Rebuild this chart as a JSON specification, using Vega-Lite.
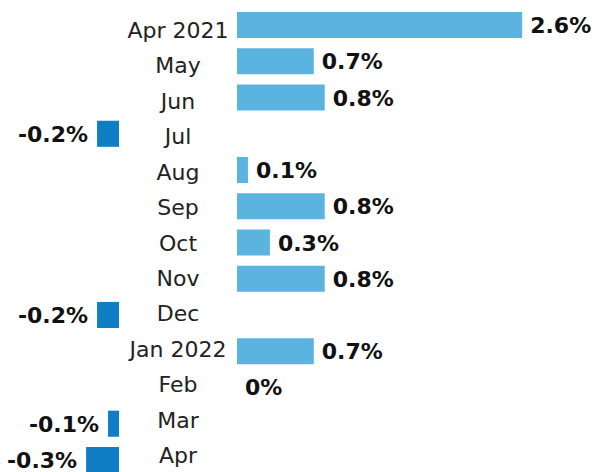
{
  "$schema": "https://vega.github.io/schema/vega-lite/v6.json",
  "padding": {"top": 12, "left": 0, "right": 0, "bottom": 0},
  "background": "white",
  "spacing": 0,
  "bounds": "flush",
  "config": {"view": {"stroke": null}, "concat": {"spacing": 0}},
  "data": {
    "values": [
      {"month": "Apr 2021", "v": 2.6, "label": "2.6%"},
      {"month": "May", "v": 0.7, "label": "0.7%"},
      {"month": "Jun", "v": 0.8, "label": "0.8%"},
      {"month": "Jul", "v": -0.2, "label": "-0.2%"},
      {"month": "Aug", "v": 0.1, "label": "0.1%"},
      {"month": "Sep", "v": 0.8, "label": "0.8%"},
      {"month": "Oct", "v": 0.3, "label": "0.3%"},
      {"month": "Nov", "v": 0.8, "label": "0.8%"},
      {"month": "Dec", "v": -0.2, "label": "-0.2%"},
      {"month": "Jan 2022", "v": 0.7, "label": "0.7%"},
      {"month": "Feb", "v": 0, "label": "0%"},
      {"month": "Mar", "v": -0.1, "label": "-0.1%"},
      {"month": "Apr", "v": -0.3, "label": "-0.3%"}
    ]
  },
  "hconcat": [
    {
      "width": 119,
      "height": 461,
      "transform": [{"filter": "datum.v < 0"}],
      "encoding": {
        "y": {
          "field": "month",
          "type": "nominal",
          "axis": null,
          "scale": {
            "domain": ["Apr 2021", "May", "Jun", "Jul", "Aug", "Sep", "Oct", "Nov", "Dec", "Jan 2022", "Feb", "Mar", "Apr"],
            "paddingInner": 0.28,
            "paddingOuter": 0
          }
        },
        "x": {
          "field": "v",
          "type": "quantitative",
          "axis": null,
          "scale": {"domain": [-1.085, 0], "nice": false, "zero": true}
        }
      },
      "layer": [
        {"mark": {"type": "bar", "color": "#0f7ec4"}},
        {
          "mark": {"type": "text", "align": "right", "baseline": "alphabetic", "dx": -9, "dy": 8, "font": "DejaVu Sans", "fontSize": 22, "fontWeight": "bold", "color": "#111111"},
          "encoding": {"text": {"field": "label"}}
        }
      ]
    },
    {
      "width": 118,
      "height": 461,
      "mark": {"type": "text", "align": "center", "baseline": "alphabetic", "dy": 8, "font": "DejaVu Sans", "fontSize": 22, "color": "#222222"},
      "encoding": {
        "y": {
          "field": "month",
          "type": "nominal",
          "axis": null,
          "scale": {
            "domain": ["Apr 2021", "May", "Jun", "Jul", "Aug", "Sep", "Oct", "Nov", "Dec", "Jan 2022", "Feb", "Mar", "Apr"],
            "paddingInner": 0.28,
            "paddingOuter": 0
          }
        },
        "text": {"field": "month"}
      }
    },
    {
      "width": 357,
      "height": 461,
      "transform": [{"filter": "datum.v >= 0"}],
      "encoding": {
        "y": {
          "field": "month",
          "type": "nominal",
          "axis": null,
          "scale": {
            "domain": ["Apr 2021", "May", "Jun", "Jul", "Aug", "Sep", "Oct", "Nov", "Dec", "Jan 2022", "Feb", "Mar", "Apr"],
            "paddingInner": 0.28,
            "paddingOuter": 0
          }
        },
        "x": {
          "field": "v",
          "type": "quantitative",
          "axis": null,
          "scale": {"domain": [0, 3.255], "nice": false}
        }
      },
      "layer": [
        {"mark": {"type": "bar", "color": "#5bb3e0"}},
        {
          "mark": {"type": "text", "align": "left", "baseline": "alphabetic", "dx": 8, "dy": 8, "font": "DejaVu Sans", "fontSize": 22, "fontWeight": "bold", "color": "#111111"},
          "encoding": {"text": {"field": "label"}}
        }
      ]
    }
  ]
}
